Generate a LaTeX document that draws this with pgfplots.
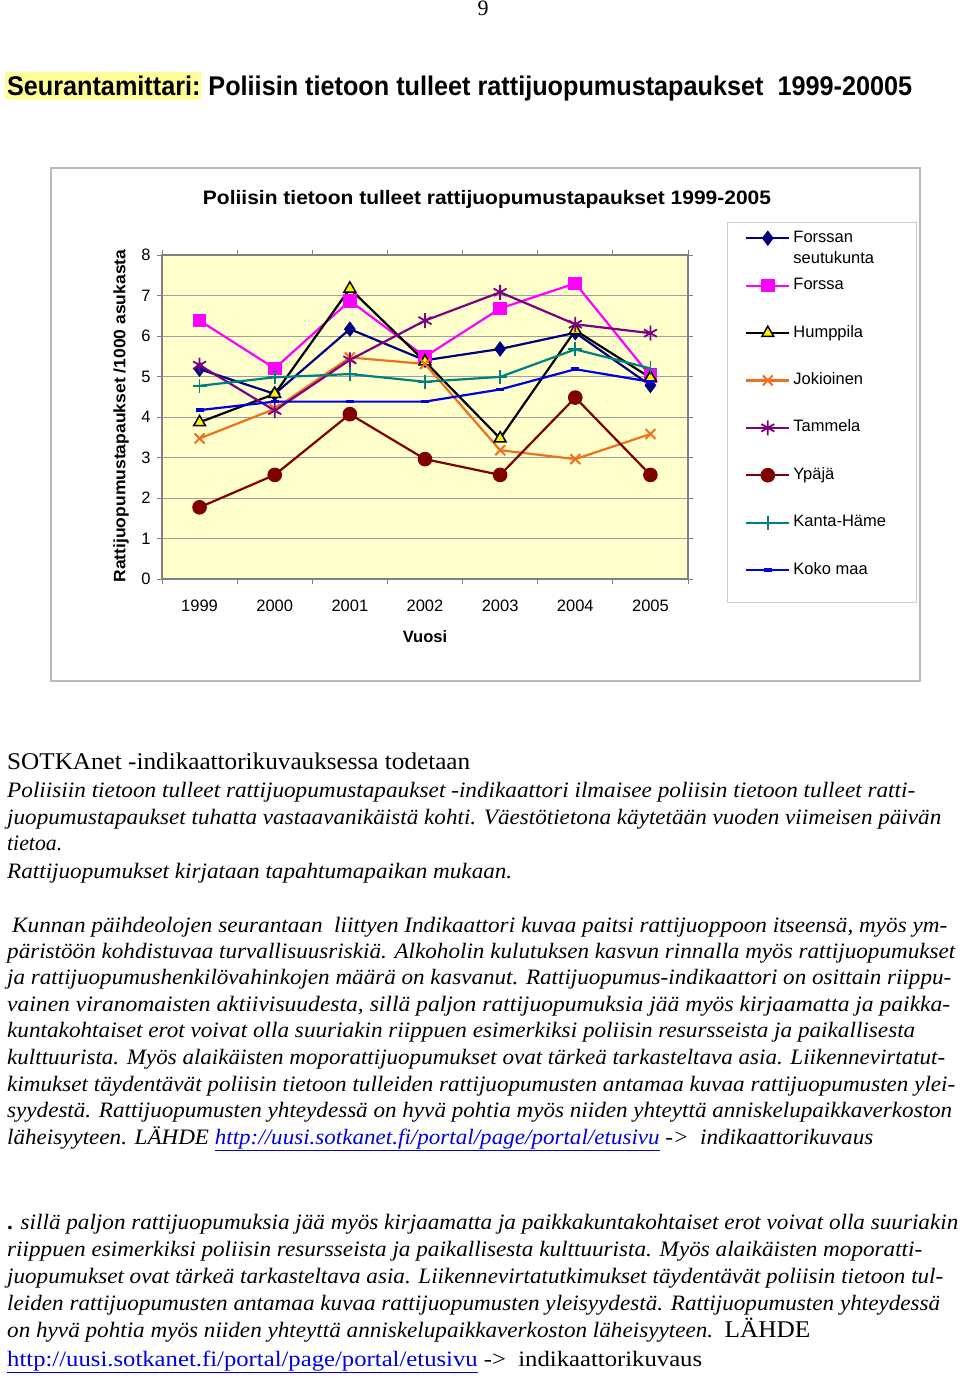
\documentclass[border=0pt]{standalone}
\usepackage{fontspec}
\setmainfont{Liberation Serif}
\newfontfamily\arial{Liberation Sans}
\usepackage{graphicx}
\usepackage{pgfplots}
\pgfplotsset{compat=1.18}
\definecolor{plotbg}{HTML}{FFFFCC}
\definecolor{hl}{HTML}{FFFF99}
\definecolor{cnavy}{HTML}{000080}
\definecolor{cmag}{HTML}{FF00FF}
\definecolor{corange}{HTML}{F07020}
\definecolor{cpurple}{HTML}{800080}
\definecolor{cdred}{HTML}{800000}
\definecolor{cteal}{HTML}{008080}
\definecolor{cblue}{HTML}{0000E0}
\definecolor{clink}{HTML}{0000E6}
\newcommand\tline[4]{\node[anchor=base west,inner sep=0pt] at (#1,-#2) {\resizebox{#3pt}{\height}{#4}};}
\newcommand\bit{\fontsize{22}{26}\selectfont\itshape}
\newcommand\bup{\fontsize{22}{26}\selectfont\upshape}
\newcommand\lnk[1]{\textcolor{clink}{\underline{#1}}}
\begin{document}
\begin{tikzpicture}[x=1pt,y=1pt]
\useasboundingbox (0,0) rectangle (960,-1378);
\fill[white] (0,0) rectangle (960,-1378);
% page number
\node[anchor=base,inner sep=0pt] at (483,-16) {\fontsize{22}{24}\selectfont 9};
% header
\node[anchor=base west,inner sep=0pt] at (5,-95.5) {\resizebox{907pt}{\height}{\arial\bfseries\fontsize{27}{30}\selectfont{\setlength\fboxsep{0pt}\colorbox{hl}{\hspace{2pt}\rule[-5pt]{0pt}{28.5pt}Seurantamittari:\hspace{1pt}}} Poliisin tietoon tulleet rattijuopumustapaukset\ \ 1999-20005}};
% chart frame
\draw[gray!55,line width=1.2pt] (51,-168) rectangle (920,-681);
\draw[gray!40,line width=1pt] (727,-222) rectangle (916,-602);
\node[anchor=base,inner sep=0pt] at (487,-204) {\resizebox{568pt}{\height}{\arial\bfseries\fontsize{19.5}{22}\selectfont Poliisin tietoon tulleet rattijuopumustapaukset 1999-2005}};
\node[rotate=90,inner sep=0pt] at (121,-416) {\resizebox{333pt}{\height}{\arial\bfseries\fontsize{16.5}{19}\selectfont Rattijuopumustapaukset /1000 asukasta}};
\node[anchor=base,inner sep=0pt] at (425,-642) {\arial\bfseries\fontsize{16.5}{19}\selectfont Vuosi};
\begin{axis}[
  at={(162pt,-579pt)}, anchor=south west,
  scale only axis, width=526pt, height=324pt,
  xmin=1998.5, xmax=2005.5, ymin=0, ymax=8,
  xtick={1999,2000,2001,2002,2003,2004,2005},
  xticklabels={1999,2000,2001,2002,2003,2004,2005},
  ytick={0,1,2,3,4,5,6,7,8},
  yticklabels={0,1,2,3,4,5,6,7,8},
  minor xtick={1998.5,1999.5,2000.5,2001.5,2002.5,2003.5,2004.5,2005.5},
  minor ytick={0,1,2,3,4,5,6,7,8},
  tick align=outside, major tick length=5pt, minor tick length=5pt,
  major tick style={draw=none},
  minor tick style={draw=gray, line width=1pt},
  ymajorgrids, major grid style={draw=gray!75, line width=0.9pt},
  axis background/.style={fill=plotbg},
  axis line style={draw=gray, line width=1.4pt},
  ticklabel style={font=\arial\fontsize{16.5}{19}\selectfont},
  xticklabel style={anchor=base, yshift=-27pt},
  yticklabel style={xshift=-3pt},
  clip=false,
  legend style={at={(1.1084,1.0833)}, anchor=north west, draw=none, fill=none, inner sep=0pt,
    row sep=27.4pt, column sep=1pt, font=\arial\fontsize{16.5}{19}\selectfont,
    nodes={inner sep=2pt, text height=12pt, text depth=4pt, anchor=west}},
  legend cell align=left,
  legend image code/.code={\draw[mark repeat=2,mark phase=2,#1] plot coordinates {(0pt,0pt) (21.5pt,0pt) (43pt,0pt)};},
  every axis plot/.append style={line width=2.2pt},
]
\addplot[color=cnavy, mark=diamond*, mark size=7pt, mark options={solid,line width=1pt}] coordinates {(1999,5.18) (2000,4.57) (2001,6.17) (2002,5.40) (2003,5.68) (2004,6.08) (2005,4.78)};
\addlegendentry{\makebox[0pt][l]{\raisebox{-21pt}[0pt][0pt]{seutukunta}}Forssan}
\addplot[color=cmag, mark=square*, mark size=6.3pt, mark options={solid,line width=1pt}] coordinates {(1999,6.38) (2000,5.20) (2001,6.87) (2002,5.49) (2003,6.68) (2004,7.30) (2005,5.01)};
\addlegendentry{Forssa}
\addplot[color=black, mark=triangle*, mark size=6.8pt, mark options={solid,fill=yellow,draw=black,line width=1.5pt}] coordinates {(1999,3.87) (2000,4.57) (2001,7.17) (2002,5.37) (2003,3.47) (2004,6.14) (2005,4.97)};
\addlegendentry{Humppila}
\addplot[color=corange, mark=x, mark size=7pt, mark options={solid,line width=2pt}] coordinates {(1999,3.47) (2000,4.20) (2001,5.47) (2002,5.31) (2003,3.18) (2004,2.96) (2005,3.58)};
\addlegendentry{Jokioinen}
\addplot[color=cpurple, mark=asterisk, mark size=7.5pt, mark options={solid,line width=1.8pt}] coordinates {(1999,5.28) (2000,4.16) (2001,5.41) (2002,6.38) (2003,7.08) (2004,6.29) (2005,6.07)};
\addlegendentry{Tammela}
\addplot[color=cdred, mark=*, mark size=6.8pt, mark options={solid,line width=1pt}] coordinates {(1999,1.77) (2000,2.57) (2001,4.07) (2002,2.96) (2003,2.57) (2004,4.48) (2005,2.57)};
\addlegendentry{Ypäjä}
\addplot[color=cteal, mark=+, mark size=7pt, mark options={solid,line width=1.8pt}] coordinates {(1999,4.77) (2000,4.98) (2001,5.06) (2002,4.87) (2003,4.99) (2004,5.67) (2005,5.20)};
\addlegendentry{Kanta-Häme}
\addplot[color=cblue, mark=-, mark size=4pt, mark options={solid,line width=3.5pt}] coordinates {(1999,4.17) (2000,4.38) (2001,4.38) (2002,4.38) (2003,4.68) (2004,5.18) (2005,4.87)};
\addlegendentry{Koko maa}
\end{axis}
% body text
\tline{7}{769}{463}{\fontsize{24}{28}\selectfont SOTKAnet -indikaattorikuvauksessa todetaan}
\tline{7}{797}{908}{\bit Poliisiin tietoon tulleet rattijuopumustapaukset -indikaattori ilmaisee poliisin tietoon tulleet ratti-}
\tline{7}{824}{934}{\bit juopumustapaukset tuhatta vastaavanikäistä kohti. Väestötietona käytetään vuoden viimeisen päivän}
\tline{7}{850}{55}{\bit tietoa.}
\tline{7}{878}{505}{\bit Rattijuopumukset kirjataan tapahtumapaikan mukaan.}
\tline{12}{932}{935}{\bit Kunnan päihdeolojen seurantaan\ \ liittyen Indikaattori kuvaa paitsi rattijuoppoon itseensä, myös ym-}
\tline{7}{958}{948}{\bit päristöön kohdistuvaa turvallisuusriskiä. Alkoholin kulutuksen kasvun rinnalla myös rattijuopumukset}
\tline{7}{984}{944}{\bit ja rattijuopumushenkilövahinkojen määrä on kasvanut. Rattijuopumus-indikaattori on osittain riippu-}
\tline{7}{1011}{943}{\bit vainen viranomaisten aktiivisuudesta, sillä paljon rattijuopumuksia jää myös kirjaamatta ja paikka-}
\tline{7}{1037}{908}{\bit kuntakohtaiset erot voivat olla suuriakin riippuen esimerkiksi poliisin resursseista ja paikallisesta}
\tline{7}{1064}{938}{\bit kulttuurista. Myös alaikäisten moporattijuopumukset ovat tärkeä tarkasteltava asia. Liikennevirtatut-}
\tline{7}{1091}{948}{\bit kimukset täydentävät poliisin tietoon tulleiden rattijuopumusten antamaa kuvaa rattijuopumusten ylei-}
\tline{7}{1117}{945}{\bit syydestä. Rattijuopumusten yhteydessä on hyvä pohtia myös niiden yhteyttä anniskelupaikkaverkoston}
\tline{7}{1144}{866}{\bit läheisyyteen. LÄHDE \lnk{http://uusi.sotkanet.fi/portal/page/portal/etusivu} ->\ \ indikaattorikuvaus}
\tline{7}{1229}{951}{\bit{\upshape\bfseries .} sillä paljon rattijuopumuksia jää myös kirjaamatta ja paikkakuntakohtaiset erot voivat olla suuriakin}
\tline{7}{1256}{915}{\bit riippuen esimerkiksi poliisin resursseista ja paikallisesta kulttuurista. Myös alaikäisten moporatti-}
\tline{7}{1283}{936}{\bit juopumukset ovat tärkeä tarkasteltava asia. Liikennevirtatutkimukset täydentävät poliisin tietoon tul-}
\tline{7}{1310}{933}{\bit leiden rattijuopumusten antamaa kuvaa rattijuopumusten yleisyydestä. Rattijuopumusten yhteydessä}
\tline{7}{1337}{803}{\bit on hyvä pohtia myös niiden yhteyttä anniskelupaikkaverkoston läheisyyteen.\ \ {\upshape\fontsize{24}{28}\selectfont LÄHDE}}
\tline{7}{1366}{695}{\bup\lnk{http://uusi.sotkanet.fi/portal/page/portal/etusivu} ->\ \ indikaattorikuvaus}
\end{tikzpicture}
\end{document}
